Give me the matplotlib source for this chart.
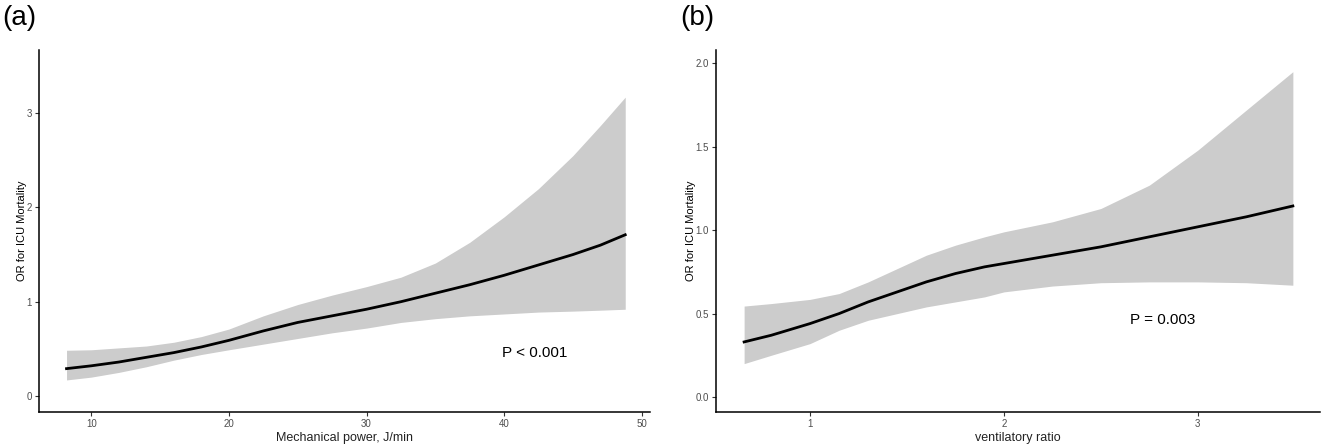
import numpy as np
import matplotlib
matplotlib.use("Agg")
import matplotlib.pyplot as plt

plt.rcParams['font.family'] = ['Liberation Sans', 'DejaVu Sans']

# panel (a): mechanical power
mp_x = [8.2, 10, 12, 14, 16, 18, 20, 22.5, 25, 27.5, 30, 32.5, 35, 37.5, 40, 42.5, 45, 47, 48.8]
mp_or = [0.29, 0.32, 0.36, 0.41, 0.46, 0.52, 0.59, 0.69, 0.78, 0.85, 0.92, 1.00, 1.09, 1.18, 1.28, 1.39, 1.50, 1.60, 1.71]
mp_hi = [0.485, 0.49, 0.51, 0.53, 0.57, 0.63, 0.71, 0.85, 0.97, 1.07, 1.16, 1.26, 1.41, 1.63, 1.90, 2.20, 2.55, 2.87, 3.17]
mp_lo = [0.17, 0.20, 0.25, 0.31, 0.38, 0.44, 0.49, 0.55, 0.61, 0.67, 0.72, 0.78, 0.82, 0.85, 0.87, 0.89, 0.90, 0.91, 0.92]

# panel (b): ventilatory ratio
vr_x = [0.66, 0.8, 1.0, 1.15, 1.3, 1.45, 1.6, 1.75, 1.9, 2.0, 2.25, 2.5, 2.75, 3.0, 3.25, 3.49]
vr_or = [0.33, 0.37, 0.44, 0.50, 0.57, 0.63, 0.69, 0.74, 0.78, 0.80, 0.85, 0.90, 0.96, 1.02, 1.08, 1.145]
vr_hi = [0.545, 0.56, 0.585, 0.62, 0.69, 0.77, 0.85, 0.91, 0.96, 0.99, 1.05, 1.13, 1.27, 1.48, 1.72, 1.95]
vr_lo = [0.20, 0.25, 0.32, 0.40, 0.46, 0.50, 0.54, 0.57, 0.60, 0.63, 0.665, 0.685, 0.69, 0.69, 0.685, 0.67]

fig = plt.figure(figsize=(13.25, 4.46), dpi=100)
ax1 = fig.add_axes([39 / 1325, 34 / 446, 611 / 1325, 362 / 446])
ax2 = fig.add_axes([716 / 1325, 34 / 446, 604 / 1325, 362 / 446])

def style(ax):
    for s in ['top', 'right']:
        ax.spines[s].set_visible(False)
    for s in ['left', 'bottom']:
        ax.spines[s].set_linewidth(1.1)
        ax.spines[s].set_color('black')
    ax.tick_params(axis='both', length=3, width=0.8, color='#333333',
                   labelsize=7, labelcolor='#4d4d4d', pad=2)

ax1.fill_between(mp_x, mp_lo, mp_hi, color='#cccccc', linewidth=0)
ax1.plot(mp_x, mp_or, color='black', linewidth=2)
ax1.set_xlim(6.2, 50.6)
ax1.set_ylim(-0.17, 3.67)
ax1.set_xticks([10, 20, 30, 40, 50])
ax1.set_yticks([0, 1, 2, 3])
ax1.set_xlabel('Mechanical power, J/min', fontsize=9, color='#222222', labelpad=2)
ax1.set_ylabel('OR for ICU Mortality', fontsize=8, color='black', labelpad=0)
ax1.text(42.2, 0.46, 'P < 0.001', fontsize=11, ha='center', va='center')
style(ax1)

ax2.fill_between(vr_x, vr_lo, vr_hi, color='#cccccc', linewidth=0)
ax2.plot(vr_x, vr_or, color='black', linewidth=2)
ax2.set_xlim(0.515, 3.63)
ax2.set_ylim(-0.09, 2.08)
ax2.set_xticks([1, 2, 3])
ax2.set_yticks([0.0, 0.5, 1.0, 1.5, 2.0])
ax2.set_yticklabels(['0.0', '0.5', '1.0', '1.5', '2.0'])
ax2.set_xlabel('ventilatory ratio', fontsize=9, color='#222222', labelpad=2)
ax2.set_ylabel('OR for ICU Mortality', fontsize=8, color='black', labelpad=0)
ax2.text(2.82, 0.46, 'P = 0.003', fontsize=11, ha='center', va='center')
style(ax2)

fig.text(2 / 1325, 1 - 5 / 446, '(a)', fontsize=20, ha='left', va='top')
fig.text(680 / 1325, 1 - 5 / 446, '(b)', fontsize=20, ha='left', va='top')

fig.savefig('out.png', dpi=100)
